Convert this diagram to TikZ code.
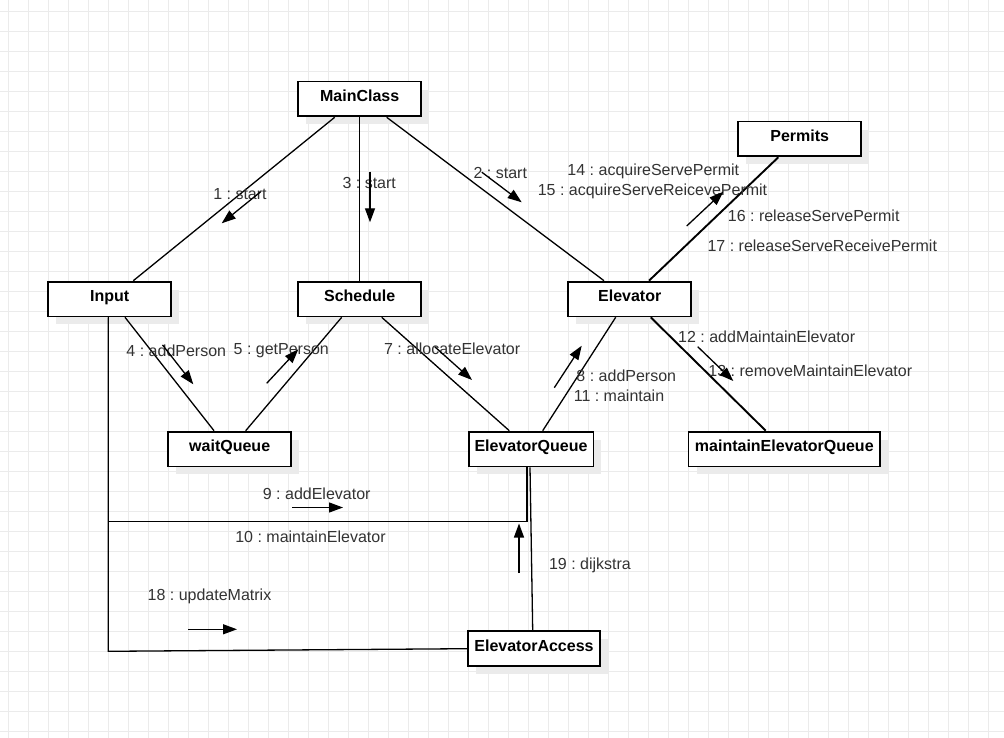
\documentclass[tikz,border=0pt]{standalone}
\usepackage{fontspec}
\setmainfont{Liberation Sans}
\usetikzlibrary{arrows.meta,shadows,calc}
\definecolor{gridc}{HTML}{EBEBEB}
\definecolor{lblc}{HTML}{333333}
\frenchspacing
\tikzset{
  obj/.style={draw=black, line width=1.8pt, fill=white, minimum height=34.8pt,
    inner sep=0pt, text height=11.5pt, text depth=6pt,
    font=\fontsize{16}{19}\selectfont\bfseries,
    general shadow={fill=black!8, shadow xshift=8pt, shadow yshift=-8pt}},
  conn/.style={line width=1.3pt},
  thickconn/.style={line width=1.9pt},
  msg/.style={line width=1.3pt, -{Triangle[length=14pt,width=10pt]}},
  lbl/.style={font=\fontsize{16}{19}\selectfont\frenchspacing, text=lblc, inner sep=0pt}
}
\begin{document}
\begin{tikzpicture}[x=1pt,y=-1pt]
\useasboundingbox (0,0) rectangle (1004,738);
\fill[white] (0,0) rectangle (1004,738);
% grid
\foreach \i in {0,...,49} {\draw[gridc, line width=1pt] (8.3+20*\i,0) -- (8.3+20*\i,738);}
\foreach \j in {0,...,36} {\draw[gridc, line width=1pt] (0,11.3+20*\j) -- (1004,11.3+20*\j);}

% objects
\node[obj, minimum width=123pt] (main) at (359.7,99) {MainClass};
\node[obj, minimum width=123pt] (input) at (109.7,299) {Input};
\node[obj, minimum width=123pt] (sched) at (359.7,299) {Schedule};
\node[obj, minimum width=123pt] (elev) at (629.7,299) {Elevator};
\node[obj, minimum width=123pt] (perm) at (799.7,139) {Permits};
\node[obj, minimum width=123pt] (wait) at (229.7,449) {waitQueue};
\node[obj, minimum width=124.8pt] (equeue) at (531,449) {ElevatorQueue};
\node[obj, minimum width=191.5pt] (mqueue) at (784.3,449) {maintainElevatorQueue};
\node[obj, minimum width=131.6pt] (access) at (534,648.7) {ElevatorAccess};

% links
\draw[conn] ([xshift=-25pt]main.south) -- ([xshift=23.6pt]input.north);
\draw[conn] (main.south) -- (sched.north);
\draw[conn] ([xshift=27pt]main.south) -- ([xshift=-25.7pt]elev.north);
\draw[thickconn] ([xshift=19.3pt]elev.north) -- ([xshift=-21.4pt]perm.south);
\draw[conn] ([xshift=15.3pt]input.south) -- ([xshift=-15.7pt]wait.north);
\draw[conn] ([xshift=-18pt]sched.south) -- ([xshift=16pt]wait.north);
\draw[conn] ([xshift=22pt]sched.south) -- ([xshift=-21.7pt]equeue.north);
\draw[conn] ([xshift=-14pt]elev.south) -- ([xshift=11.7pt]equeue.north);
\draw[thickconn] ([xshift=21pt]elev.south) -- ([xshift=-18.6pt]mqueue.north);
\draw[conn] ([xshift=-1.4pt]input.south) -- ++(0,204) -| ([xshift=-4pt]equeue.south);
\draw[conn] ([xshift=-1.4pt]input.south) -- ++(0,334) -- (access.west);
\draw[conn] ([xshift=-1pt]equeue.south) -- ([xshift=-1.3pt]access.north);

% labels
\node[lbl] (l1) at (240,194) {1 : start};
\node[lbl] (l3) at (369.2,182.7) {3 : start};
\node[lbl] (l2) at (500.3,173.3) {2 : start};
\node[lbl] (l14) at (653.3,171.7) {14 : acquireServePermit};
\node[lbl] (l15) at (652.5,191.7) {15 : acquireServeReicevePermit};
\node[lbl] (l16) at (813.7,216) {16 : releaseServePermit};
\node[lbl] (l17) at (822.3,245.7) {17 : releaseServeReceivePermit};
\node[lbl] (l4) at (176.3,350.7) {4 : addPerson};
\node[lbl] (l5) at (281.3,350.7) {5 : getPerson};
\node[lbl] (l7) at (452.2,349) {7 : allocateElevator};
\node[lbl] (l8) at (626.3,376) {8 : addPerson};
\node[lbl] (l11) at (619,396) {11 : maintain};
\node[lbl] (l12) at (766.7,336.7) {12 : addMaintainElevator};
\node[lbl] (l13) at (810.3,370.7) {13 : removeMaintainElevator};
\node[lbl] (l9) at (316.7,493.3) {9 : addElevator};
\node[lbl] (l10) at (310.5,537) {10 : maintainElevator};
\node[lbl] (l18) at (209.5,596) {18 : updateMatrix};
\node[lbl] (l19) at (590,565) {19 : dijkstra};

% message arrows
\coordinate (a1s) at (260.6,191.8); \coordinate (a1e) at (221.7,223.3);
\coordinate (a3s) at (370,171.7);   \coordinate (a3e) at (370,222.3);
\coordinate (a2s) at (481.8,172.2); \coordinate (a2e) at (521.7,202.3);
\coordinate (a14s) at (686.7,226);  \coordinate (a14e) at (723.3,191.7);
\coordinate (a4s) at (162.5,344.9); \coordinate (a4e) at (193.3,384.3);
\coordinate (a5s) at (266.7,383.3); \coordinate (a5e) at (298.3,349.3);
\coordinate (a7s) at (434.7,346.7); \coordinate (a7e) at (472,380);
\coordinate (a8s) at (554.3,387.7); \coordinate (a8e) at (581.7,345.7);
\coordinate (a12s) at (697.7,346.7); \coordinate (a12e) at (733.3,381);
\coordinate (a9s) at (292,507.5);   \coordinate (a9e) at (343,507.5);
\coordinate (a10s) at (519,573);    \coordinate (a10e) at (519,523.5);
\coordinate (a18s) at (188,629.3);  \coordinate (a18e) at (237,629.3);
\foreach \a in {1,3,2,14,4,5,7,8,12,9,10,18} {\draw[msg] (a\a s) -- (a\a e);}
\end{tikzpicture}
\end{document}
